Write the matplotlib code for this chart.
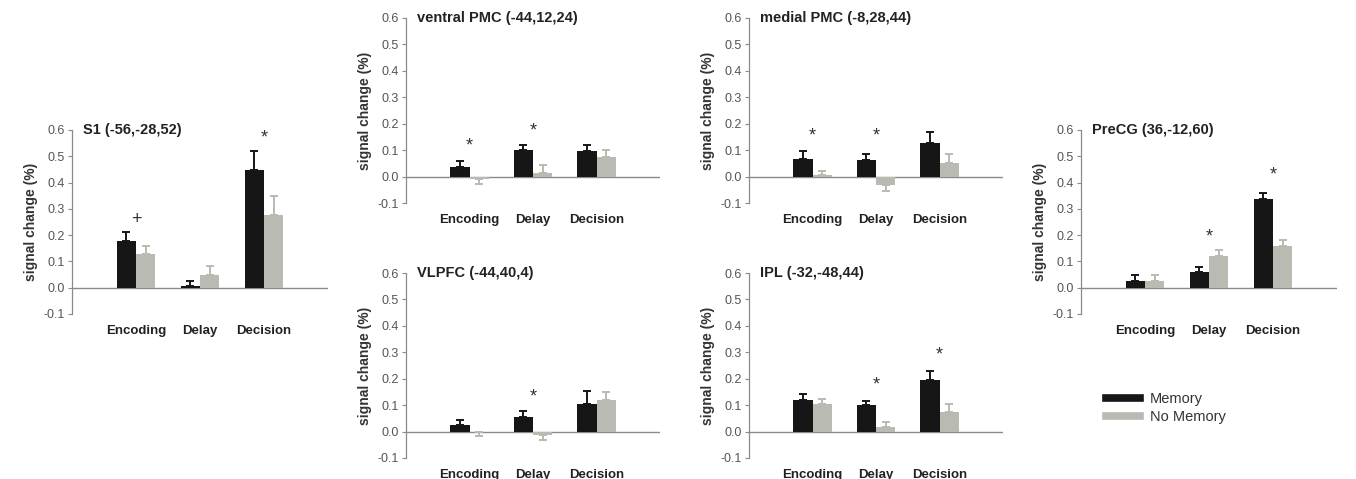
import matplotlib
matplotlib.use("Agg")
import matplotlib.pyplot as plt
from matplotlib.lines import Line2D
import numpy as np

plt.rcParams['font.family'] = ['Liberation Sans', 'DejaVu Sans']

categories = ["Encoding", "Delay", "Decision"]
yticks = [-0.1, 0.0, 0.1, 0.2, 0.3, 0.4, 0.5, 0.6]
ytick_labels = ["-0.1", "0.0", "0.1", "0.2", "0.3", "0.4", "0.5", "0.6"]
series_names = ["Memory", "No Memory"]

titles = ["S1 (-56,-28,52)", "ventral PMC (-44,12,24)", "VLPFC (-44,40,4)",
          "medial PMC (-8,28,44)", "IPL (-32,-48,44)", "PreCG (36,-12,60)"]

memory = [
    [0.178, 0.005, 0.447],
    [0.038, 0.099, 0.097],
    [0.023, 0.056, 0.106],
    [0.067, 0.063, 0.128],
    [0.119, 0.102, 0.194],
    [0.025, 0.058, 0.337],
]
memory_err = [
    [0.035, 0.020, 0.073],
    [0.022, 0.020, 0.023],
    [0.022, 0.021, 0.048],
    [0.028, 0.022, 0.040],
    [0.022, 0.015, 0.034],
    [0.023, 0.020, 0.023],
]
nomemory = [
    [0.130, 0.047, 0.278],
    [-0.010, 0.015, 0.075],
    [-0.002, -0.012, 0.120],
    [0.005, -0.032, 0.053],
    [0.104, 0.019, 0.075],
    [0.027, 0.120, 0.157],
]
nomemory_err = [
    [0.028, 0.037, 0.072],
    [0.018, 0.027, 0.027],
    [0.016, 0.018, 0.030],
    [0.017, 0.022, 0.034],
    [0.021, 0.018, 0.031],
    [0.021, 0.022, 0.025],
]
# significance markers: (category index, symbol, y level)
markers = [
    [(0, "+", 0.26), (2, "*", 0.57)],
    [(0, "*", 0.117), (1, "*", 0.174)],
    [(1, "*", 0.132)],
    [(0, "*", 0.155), (1, "*", 0.155)],
    [(1, "*", 0.177), (2, "*", 0.29)],
    [(1, "*", 0.194), (2, "*", 0.43)],
]

W, H = 1356, 479
fig = plt.figure(figsize=(W / 100, H / 100), dpi=100)

def rect(x0, x1, ytop, ybot):
    return [x0 / W, 1 - ybot / H, (x1 - x0) / W, (ybot - ytop) / H]

rects = [
    rect(72, 328, 130, 314),
    rect(406, 660, 18, 203),
    rect(406, 660, 273, 458),
    rect(749, 1003, 18, 203),
    rect(749, 1003, 273, 458),
    rect(1081, 1337, 130, 314),
]

black = "#161616"
gray = "#b9bbb2"
axcol = "#8a8a8a"
x = np.arange(1, 4)
bw = 0.3

for i in range(6):
    ax = fig.add_axes(rects[i])
    m = np.array(memory[i]); me = np.array(memory_err[i])
    n = np.array(nomemory[i]); ne = np.array(nomemory_err[i])
    ax.bar(x - bw / 2, m, bw, color=black, zorder=2)
    ax.bar(x + bw / 2, n, bw, color=gray, zorder=2)
    for xs, vals, errs, col in [(x - bw / 2, m, me, black), (x + bw / 2, n, ne, gray)]:
        lo = np.where(vals < 0, errs, 0)
        hi = np.where(vals >= 0, errs, 0)
        ax.errorbar(xs, vals, yerr=[lo, hi], fmt="none", ecolor=col,
                    elinewidth=1.4, capsize=3.2, capthick=1.4, zorder=3)
    ax.axhline(0, color=axcol, lw=1.0, zorder=1)
    ax.set_xlim(0, 4)
    ax.set_ylim(-0.1, 0.6)
    ax.set_yticks(yticks)
    ax.set_yticklabels(ytick_labels, fontsize=9, color="#555555")
    ax.tick_params(axis="y", length=3, color=axcol, width=0.8, pad=2)
    ax.set_xticks(x)
    ax.set_xticklabels(categories, fontsize=9.5, fontweight="bold", color="#222222")
    ax.tick_params(axis="x", length=0, pad=8)
    for s in ["top", "right", "bottom"]:
        ax.spines[s].set_visible(False)
    ax.spines["left"].set_color(axcol)
    ax.spines["left"].set_linewidth(0.9)
    ax.patch.set_alpha(0)
    ax.set_ylabel("signal change (%)", fontsize=10, fontweight="bold",
                  color="#333333", labelpad=4)
    ax.text(0.042, 1.0, titles[i], transform=ax.transAxes, fontsize=10.5,
            fontweight="bold", color="#222222", va="center", ha="left")
    for ci, sym, yv in markers[i]:
        ax.text(x[ci], yv, sym, fontsize=13, color="#333333",
                ha="center", va="center")

handles = [Line2D([0], [0], color=black, lw=5.5),
           Line2D([0], [0], color=gray, lw=5.5)]
fig.legend(handles, series_names, loc="upper left",
           bbox_to_anchor=(1093 / W, 1 - 379 / H), frameon=False,
           fontsize=10.5, handlelength=2.3, handletextpad=0.7,
           labelspacing=0.25, labelcolor="#333333")

fig.savefig("out.png", dpi=100)
